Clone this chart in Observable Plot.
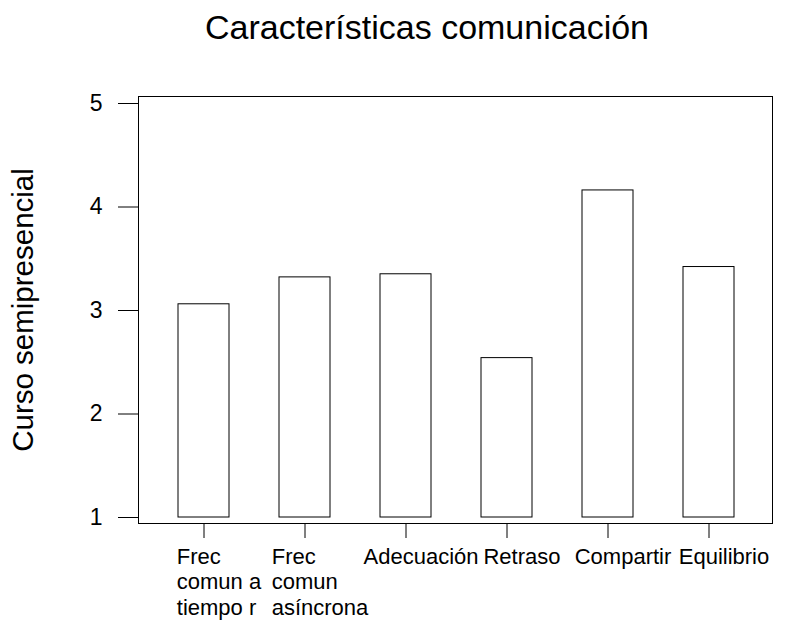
<!DOCTYPE html>
<html>
<head>
<meta charset="utf-8">
<script src="https://cdn.jsdelivr.net/npm/d3@7"></script>
<script src="https://cdn.jsdelivr.net/npm/@observablehq/plot@0.6"></script>
<style>
  html, body { margin: 0; padding: 0; background: white; }
  #title {
    height: 70px; box-sizing: border-box; width: 791px;
    padding-top: 10px; padding-left: 63px;
    text-align: center; font-family: "Liberation Sans", Arial, sans-serif;
    font-size: 34px; line-height: 34px; color: black;
  }
  #chart svg { display: block; }
</style>
</head>
<body>
<div id="title">Características comunicación</div>
<div id="chart"></div>
<script>
const categories = ["Frec\ncomun a\ntiempo r", "Frec\ncomun\nasíncrona", "Adecuación", "Retraso", "Compartir", "Equilibrio"];
const values = [3.06, 3.32, 3.35, 2.54, 4.16, 3.42];
const yTicks = [1, 2, 3, 4, 5];
const yLabel = "Curso semipresencial";

const data = categories.map((c, i) => ({cat: c, value: values[i]}));
const yBase = yTicks[0];
const FONT = "'Liberation Sans', Arial, sans-serif";
const tickFont = 22;

// measure widest line of each label so that multi-line labels stay left-aligned as a centred block
const ctx = document.createElement("canvas").getContext("2d");
ctx.font = `${tickFont}px ${FONT}`;
const blockWidth = (s) => d3.max(s.split("\n"), (l) => ctx.measureText(l).width);

const labelMarks = categories.map((c) =>
  Plot.text([c], {
    x: (d) => d, frameAnchor: "bottom", dy: 22, dx: -blockWidth(c) / 2 + 15,
    textAnchor: "start", lineAnchor: "top", lineHeight: 1.16, fontSize: tickFont
  })
);

const chart = Plot.plot({
  width: 791,
  height: 557,
  marginTop: 26,
  marginBottom: 104,
  marginLeft: 138,
  marginRight: 19,
  style: {fontFamily: FONT, fontSize: "22px", color: "black", background: "white"},
  x: {domain: categories, paddingInner: 0.5, paddingOuter: 0.25, insetLeft: 13, insetRight: 12, axis: null},
  y: {domain: [yTicks[0], yTicks[yTicks.length - 1]], insetTop: 7, insetBottom: 6, axis: null},
  marks: [
    Plot.barY(data, {x: "cat", y1: () => yBase, y2: "value", fill: "white", stroke: "black", strokeWidth: 1}),
    Plot.frame({stroke: "black", strokeWidth: 1}),
    Plot.axisY(yTicks, {tickSize: 20, tickPadding: 16, fontSize: 23, tickFormat: d3.format("d"), label: null}),
    Plot.axisX({tickSize: 15, tickFormat: () => "", label: null}),
    ...labelMarks,
    Plot.text([yLabel], {frameAnchor: "left", dx: -115, rotate: -90, fontSize: 29.5, textAnchor: "middle", lineAnchor: "middle"})
  ]
});
document.getElementById("chart").appendChild(chart);
</script>
</body>
</html>
